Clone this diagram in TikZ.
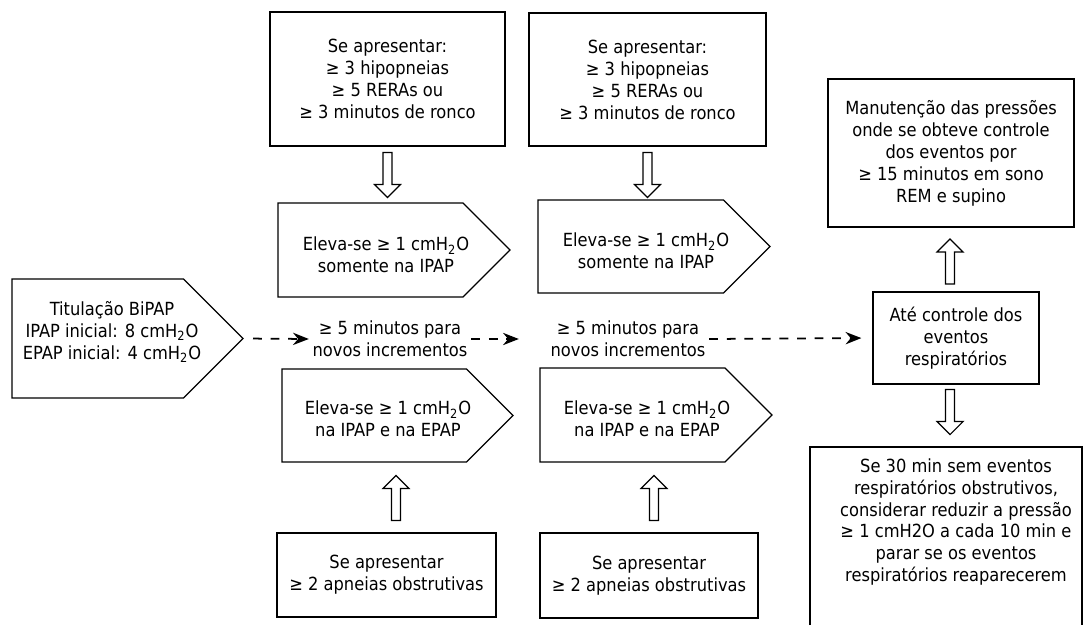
\documentclass[tikz,border=0pt]{standalone}
\usepackage{fontspec}
\setmainfont{DejaVu Sans Condensed}
\usetikzlibrary{arrows.meta,calc}

% pentagon: left, tip, top, bottom (in px)
\newcommand{\pentagonbox}[4]{%
  \draw[line width=0.7pt] (#1,#3) -- ({#2-(#4-#3)/2},#3) -- (#2,{(#3+#4)/2})
      -- ({#2-(#4-#3)/2},#4) -- (#1,#4) -- cycle;}

\tikzset{
  box/.style={draw, line width=0.7pt, align=center, font=\fontsize{10.3pt}{12.5pt}\selectfont},
  txt/.style={align=center, inner sep=2pt, font=\fontsize{10.3pt}{12.5pt}\selectfont},
  dasharrow/.style={line width=1pt, dash pattern=on 5pt off 5pt, -{Stealth[length=9pt,width=7pt]}},
  hollow/.pic={\draw[line width=0.7pt] (-4.5,-22.5) -- (4.5,-22.5) -- (4.5,9.5) -- (13,9.5)
      -- (0,22.5) -- (-13,9.5) -- (-4.5,9.5) -- cycle;}
}

\begin{document}
\begin{tikzpicture}[x=0.02cm, y=-0.02cm]
    \useasboundingbox (0,0) rectangle (1084,625);

    % Start
    \pentagonbox{12}{243}{279}{398}
    \node (tit) at (112,332) [txt]
        {Titulação BiPAP\\IPAP inicial: 8 cmH\textsubscript{2}O\\EPAP inicial: 4 cmH\textsubscript{2}O};
    \coordinate (titip) at (243,338.5);

    % First step
    \node (top1) at (387.5,79) [box, minimum width=4.7cm, minimum height=2.68cm]
        {Se apresentar:\\≥ 3 hipopneias\\≥ 5 RERAs ou\\≥ 3 minutos de ronco};
    \pentagonbox{278}{510}{203}{297}
    \node (up1) at (386,255) [txt] {Eleva-se ≥ 1 cmH\textsubscript{2}O\\somente na IPAP};
    \node (mid1) at (390,339) [txt] {≥ 5 minutos para\\novos incrementos};
    \pentagonbox{282}{513}{369}{462}
    \node (lo1) at (388,419) [txt] {Eleva-se ≥ 1 cmH\textsubscript{2}O\\na IPAP e na EPAP};
    \node (bot1) at (386.5,575) [box, minimum width=4.38cm, minimum height=1.68cm]
        {Se apresentar\\≥ 2 apneias obstrutivas};

    % Second step
    \node (top2) at (647.5,79.5) [box, minimum width=4.74cm, minimum height=2.66cm]
        {Se apresentar:\\≥ 3 hipopneias\\≥ 5 RERAs ou\\≥ 3 minutos de ronco};
    \pentagonbox{538}{770}{200}{293}
    \node (up2) at (646,251) [txt] {Eleva-se ≥ 1 cmH\textsubscript{2}O\\somente na IPAP};
    \node (mid2) at (628,339) [txt] {≥ 5 minutos para\\novos incrementos};
    \pentagonbox{540}{772}{368}{462}
    \node (lo2) at (647,419) [txt] {Eleva-se ≥ 1 cmH\textsubscript{2}O\\na IPAP e na EPAP};
    \node (bot2) at (649,575.5) [box, minimum width=4.36cm, minimum height=1.7cm]
        {Se apresentar\\≥ 2 apneias obstrutivas};

    % End
    \node (ate) at (956,338) [box, minimum width=3.32cm, minimum height=1.84cm]
        {Até controle dos\\eventos\\respiratórios};
    \node (manut) at (951,153) [box, minimum width=4.92cm, minimum height=2.96cm]
        {Manutenção das pressões\\onde se obteve controle\\dos eventos por\\≥ 15 minutos em sono\\REM e supino};
    \node (fin) at (956,522) [txt]
        {Se 30 min sem eventos\\respiratórios obstrutivos,\\considerar reduzir a pressão\\≥ 1 cmH2O a cada 10 min e\\parar se os eventos\\respiratórios reaparecerem};
    \draw[line width=0.7pt] (810,625) -- (810,447) -- (1082,447) -- (1082,625);

    % Dashed arrows
    \draw[dasharrow, shorten <=10*0.02cm] (titip) -- (mid1.west);
    \draw[dasharrow, shorten >=28*0.02cm] (mid1.east) -- (mid2.west);
    \draw[dasharrow, shorten >=11*0.02cm] (mid2.east) -- (ate.west);

    % Hollow arrows
    \pic at ([yshift=-0.57cm]top1.south) {hollow};
    \pic at ([yshift=-0.57cm]top2.south) {hollow};
    \pic[rotate=180] at (396,498) {hollow};
    \pic[rotate=180] at (654,498) {hollow};
    \pic[rotate=180] at ([xshift=-0.12cm, yshift=0.6cm]ate.north) {hollow};
    \pic at ([xshift=-0.12cm, yshift=-0.55cm]ate.south) {hollow};

\end{tikzpicture}
\end{document}
